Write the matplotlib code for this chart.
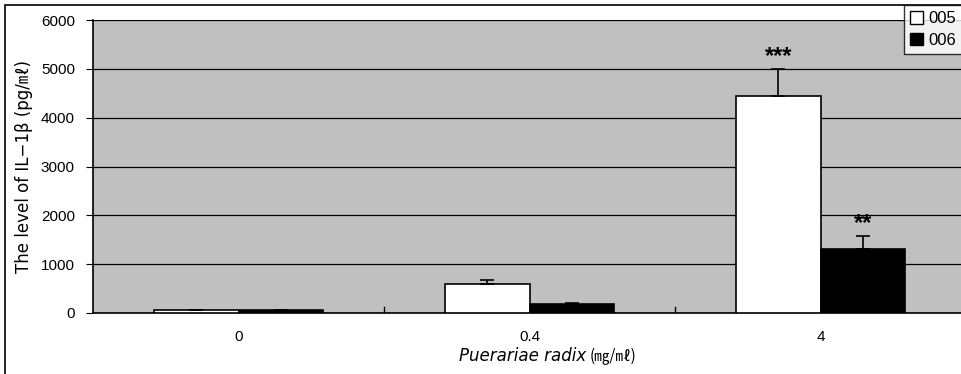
import numpy as np
import matplotlib.pyplot as plt
from matplotlib.patches import Rectangle, Patch

plt.rcParams['font.family'] = ['Liberation Sans', 'Noto Sans CJK KR', 'DejaVu Sans']

categories = ['0', '0.4', '4']
v005 = [55, 590, 4440]
e005 = [10, 95, 560]
v006 = [55, 175, 1310]
e006 = [8, 22, 260]
stars005 = ['', '', '***']
stars006 = ['', '', '**']

fig = plt.figure(figsize=(9.62, 3.74), dpi=100)
ax = fig.add_axes([93/962, 1-313/374, 873/962, 293/374])
ax.set_facecolor('#c0c0c0')

x = np.arange(len(categories))
w = 0.29
ax.bar(x - w/2, v005, w, color='white', edgecolor='black', linewidth=1.2,
       yerr=[[0]*3, e005], error_kw=dict(ecolor='black', elinewidth=1.2, capsize=5, capthick=1.2), zorder=3)
ax.bar(x + w/2, v006, w, color='black', edgecolor='black', linewidth=1.2,
       yerr=[[0]*3, e006], error_kw=dict(ecolor='black', elinewidth=1.2, capsize=5, capthick=1.2), zorder=3)

for i in range(len(categories)):
    if stars005[i]:
        ax.text(x[i] - w/2, v005[i] + e005[i] + 20, stars005[i], ha='center', va='bottom',
                fontsize=17, fontweight='bold', zorder=4)
    if stars006[i]:
        ax.text(x[i] + w/2, v006[i] + e006[i] + 20, stars006[i], ha='center', va='bottom',
                fontsize=17, fontweight='bold', zorder=4)

ax.set_xlim(-0.5, 2.5)
ax.set_ylim(0, 6000)
ax.set_yticks(range(0, 6001, 1000))
ax.yaxis.grid(True, color='black', linewidth=0.9)
ax.set_axisbelow(True)
ax.tick_params(axis='y', direction='out', length=5, labelsize=11, pad=8)

ax.set_xticks(x)
ax.set_xticklabels(categories, fontsize=11)
ax.tick_params(axis='x', length=0, pad=12)
for b in [0.5, 1.5]:
    ax.plot([b, b], [0, 120], color='black', linewidth=1, zorder=2)

for s in ['top', 'right']:
    ax.spines[s].set_visible(False)
ax.spines['left'].set_linewidth(1.2)
ax.spines['bottom'].set_linewidth(1.2)

ax.set_ylabel('The level of IL\u22121\u03b2 (pg/\u3396)', fontsize=12, labelpad=6,
              family=['DejaVu Sans', 'Noto Sans CJK KR'])

# x label: italic species name plus unit in normal style
fig.text(586/962, 1 - 356/374, 'Puerariae radix', ha='right', va='center',
         fontsize=12, style='italic', family=['DejaVu Sans'])
fig.text(590/962, 1 - 356/374, '(\u338e/\u3396)', ha='left', va='center',
         fontsize=11, family=['Noto Sans CJK KR', 'DejaVu Sans'])

handles = [Patch(facecolor='white', edgecolor='black'), Patch(facecolor='black', edgecolor='black')]
leg = fig.legend(handles, ['005', '006'], loc='upper right', bbox_to_anchor=(1.0, 1 - 5/374),
                 fontsize=12, frameon=True, fancybox=False, handlelength=0.8, handleheight=0.8,
                 handletextpad=0.3, borderpad=0.35, labelspacing=0.4, borderaxespad=0)
leg.get_frame().set_edgecolor('black')
leg.get_frame().set_linewidth(1)

fig.patches.append(Rectangle((5/962, -0.1), 1.1, 1.1 - 5/374, transform=fig.transFigure,
                             fill=False, edgecolor='black', linewidth=1.2))

fig.savefig('out.png', dpi=100)
